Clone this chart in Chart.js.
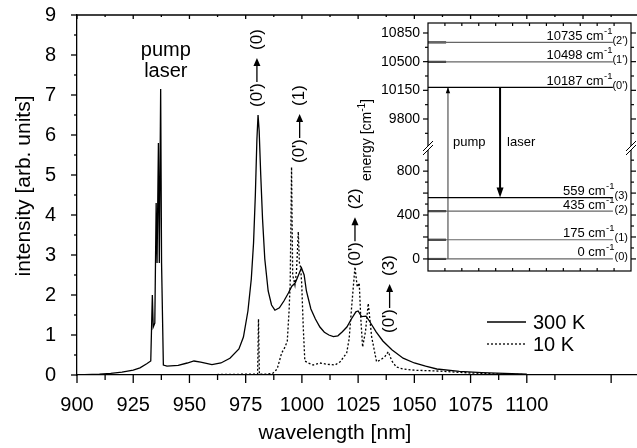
<!DOCTYPE html>
<html>
<head>
<meta charset="utf-8">
<script src="https://cdn.jsdelivr.net/npm/chart.js@4.4.0/dist/chart.umd.min.js"></script>
<style>
  html, body { margin: 0; padding: 0; background: #fff; }
  #wrap { position: relative; width: 637px; height: 448px; overflow: hidden; }
  #main { position: absolute; left: 0; top: 0; }
  #inset { position: absolute; left: 350px; top: 15px; }
</style>
</head>
<body>
<div id="wrap">
  <canvas id="main" width="637" height="448"></canvas>
  <canvas id="inset" width="287" height="275"></canvas>
</div>
<script>
const FONT = "'Liberation Sans', Arial, Helvetica, sans-serif";

// emission spectrum, 300 K (solid)
const wl300 = [900, 910, 915, 920, 925, 928, 931, 932.8, 933.5, 933.9, 934.6, 935.2, 935.6, 936.2, 936.6, 937.2, 937.6, 938.4,
  940, 945, 949, 952, 955, 960, 964, 968, 972, 974, 976, 977.5, 978.5, 979.3, 980, 980.5, 981, 981.7, 982.5, 983.5,
  985, 986.5, 988, 990, 992, 994, 995.5, 997, 998.5, 999.8, 1001, 1002, 1004, 1006, 1008, 1010, 1012, 1014, 1016,
  1018, 1020, 1022, 1024, 1025, 1026.5, 1028.5, 1030, 1033, 1036, 1040, 1045, 1050, 1055, 1060, 1070, 1080, 1090, 1100];
const int300 = [0.0, 0.02, 0.04, 0.07, 0.12, 0.18, 0.28, 0.35, 2.0, 1.2, 1.3, 4.3, 2.8, 5.8, 2.8, 7.15, 2.8, 0.25,
  0.22, 0.24, 0.3, 0.35, 0.32, 0.26, 0.3, 0.42, 0.65, 0.95, 1.6, 2.4, 3.3, 4.5, 5.9, 6.5, 6.1, 5.0, 3.9, 2.9,
  2.1, 1.75, 1.62, 1.68, 1.85, 2.05, 2.22, 2.3, 2.5, 2.68, 2.5, 2.1, 1.65, 1.4, 1.2, 1.07, 1.0, 0.96, 0.98,
  1.08, 1.2, 1.4, 1.58, 1.6, 1.46, 1.47, 1.35, 1.08, 0.85, 0.63, 0.42, 0.3, 0.22, 0.15, 0.09, 0.06, 0.04, 0.02];

// emission spectrum, 10 K (dotted)
const wl10 = [900, 920, 940, 960, 975, 980.3, 980.7, 981.1, 984, 987, 989, 991, 992.5, 993.5, 994.3, 994.8, 995.4, 995.9,
  996.9, 997.6, 998.4, 998.9, 999.4, 999.9, 1000.6, 1001.3, 1002.8, 1005, 1008, 1011, 1014.7, 1017, 1019.9, 1021,
  1022, 1023, 1023.6, 1024.6, 1025.5, 1026.2, 1027, 1028.3, 1029.5, 1031, 1033.2, 1035, 1036.9, 1038.4, 1040, 1042,
  1045, 1050, 1060, 1075, 1090, 1100];
const int10 = [0, 0.01, 0.01, 0.01, 0.02, 0.02, 1.4, 0.02, 0.02, 0.04, 0.15, 0.55, 0.7, 0.85, 1.6, 2.3, 5.2, 2.5,
  2.25, 2.6, 3.58, 2.8, 2.7, 2.3, 1.2, 0.35, 0.3, 0.25, 0.3, 0.27, 0.25, 0.33, 0.55, 0.9,
  1.62, 2.3, 2.7, 2.2, 2.3, 1.4, 0.7, 1.1, 1.79, 0.96, 0.33, 0.38, 0.46, 0.58, 0.35, 0.2,
  0.15, 0.12, 0.1, 0.05, 0.02, 0.01];

const xTickVals = [900, 925, 950, 975, 1000, 1025, 1050, 1075, 1100];
const yTickVals = [0, 1, 2, 3, 4, 5, 6, 7, 8, 9];

// transitions labelled above the peaks
const transTags = ['(0)', '(1)', '(2)', '(3)'];
const transWl = [980, 999, 1023.6, 1039];
const transBase = [6.7, 5.3, 2.72, 1.05];

// inset: energy levels [cm-1]
const levelE = [0, 175, 435, 559, 10187, 10498, 10735];
const levelTag = ['(0)', '(1)', '(2)', '(3)', "(0')", "(1')", "(2')"];
const hiTickVals = [9800, 10150, 10500, 10850];
const loTickVals = [0, 200, 400, 600, 800];
const pumpE = [0, 10187];
const laserE = [10187, 559];

const toXY = (xs, ys) => xs.map((x, i) => ({ x: x, y: ys[i] }));

function seg(ctx, x1, y1, x2, y2) {
  ctx.beginPath();
  ctx.moveTo(x1, y1);
  ctx.lineTo(x2, y2);
  ctx.stroke();
}

// drop the label overflow padding chart.js adds, so the plot box stays where we put it
function noPad(s) {
  s.paddingTop = 0; s.paddingBottom = 0; s.paddingLeft = 0; s.paddingRight = 0;
}

const mainDecor = {
  id: 'mainDecor',
  afterDraw(chart) {
    const { ctx, chartArea: a } = chart;
    const x = chart.scales.x, y = chart.scales.y;
    ctx.save();
    ctx.strokeStyle = '#000';
    ctx.fillStyle = '#000';
    ctx.lineWidth = 1.3;

    // top frame line
    seg(ctx, a.left, a.top, a.right, a.top);

    // x ticks (bottom outward, top inward)
    for (let v = 900; v <= 1140; v += 12.5) {
      const px = x.getPixelForValue(v);
      const major = v % 25 === 0;
      if (v !== 1125) seg(ctx, px, a.bottom, px, a.bottom + (major || v === 1137.5 ? 8 : 5));
      seg(ctx, px, a.top, px, a.top + (major ? 4 : 2));
    }
    // y ticks
    for (let v = 0; v <= 9; v += 0.5) {
      const py = y.getPixelForValue(v);
      seg(ctx, a.left - (v % 1 === 0 ? 6 : 3), py, a.left, py);
    }

    // axis titles
    ctx.font = `21px ${FONT}`;
    ctx.textAlign = 'center';
    ctx.textBaseline = 'alphabetic';
    ctx.fillText('wavelength [nm]', 335, 439);
    ctx.save();
    ctx.translate(30, 186);
    ctx.rotate(-Math.PI / 2);
    ctx.fillText('intensity [arb. units]', 0, 0);
    ctx.restore();

    // pump laser label
    ctx.font = `20px ${FONT}`;
    const lx = x.getPixelForValue(939.5);
    ctx.fillText('pump', lx, y.getPixelForValue(8) + 1);
    ctx.fillText('laser', lx, y.getPixelForValue(7.45));

    // transition labels (rotated)
    transTags.forEach((tag, i) => {
      const cx = x.getPixelForValue(transWl[i]);
      const by = y.getPixelForValue(transBase[i]);
      ctx.save();
      ctx.translate(cx, by);
      ctx.rotate(-Math.PI / 2);
      ctx.font = `17px ${FONT}`;
      ctx.textAlign = 'left';
      ctx.textBaseline = 'middle';
      ctx.fillText("(0')", 0, 0);
      const s = ctx.measureText("(0')").width + 1;
      const e = s + 24;
      ctx.lineWidth = 1.3;
      seg(ctx, s, 0, e - 6, 0);
      ctx.beginPath();
      ctx.moveTo(e - 8, -3.5);
      ctx.lineTo(e, 0);
      ctx.lineTo(e - 8, 3.5);
      ctx.closePath();
      ctx.fill();
      ctx.fillText(tag, e + 8, 0);
      ctx.restore();
    });

    // legend
    const ds = chart.data.datasets;
    ctx.font = `20px ${FONT}`;
    ctx.textAlign = 'left';
    ctx.textBaseline = 'middle';
    [322, 344].forEach((ly, i) => {
      ctx.lineWidth = 1.3;
      ctx.setLineDash(ds[i].borderDash || []);
      seg(ctx, 487, ly, 526, ly);
      ctx.setLineDash([]);
      ctx.fillText(ds[i].label, 533, ly + 1);
    });
    ctx.restore();
  }
};

new Chart(document.getElementById('main'), {
  type: 'line',
  data: {
    datasets: [
      { label: '300 K', data: toXY(wl300, int300), borderColor: '#000', borderWidth: 1.3, pointRadius: 0, tension: 0 },
      { label: '10 K', data: toXY(wl10, int10), borderColor: '#000', borderWidth: 1.3, borderDash: [2, 2], pointRadius: 0, tension: 0 }
    ]
  },
  options: {
    responsive: false,
    animation: false,
    layout: { padding: { top: 15, right: 0, bottom: 0, left: 0 } },
    plugins: { legend: { display: false }, tooltip: { enabled: false } },
    scales: {
      x: {
        type: 'linear', min: 900, max: 1149,
        afterFit: s => { s.height = 73; noPad(s); },
        afterBuildTicks: s => { s.ticks = xTickVals.map(v => ({ value: v })); },
        grid: { display: false, drawTicks: false },
        border: { display: true, color: '#000', width: 1.3 },
        ticks: { color: '#000', font: { family: FONT, size: 20 }, padding: 18, maxRotation: 0, autoSkip: false, callback: v => String(v) }
      },
      y: {
        type: 'linear', min: 0, max: 9,
        afterFit: s => { s.width = 77; noPad(s); },
        afterBuildTicks: s => { s.ticks = yTickVals.map(v => ({ value: v })); },
        grid: { display: false, drawTicks: false },
        border: { display: true, color: '#000', width: 1.3 },
        ticks: { color: '#000', font: { family: FONT, size: 20 }, padding: 21, callback: v => String(v) }
      }
    }
  },
  plugins: [mainDecor]
});

// ---------------- inset ----------------
const LO_MIN = -110, LO_MAX = 1020, HI_MIN = 9458, HI_MAX = 10972;
const PUMP_X = 1.18, LASER_X = 4.26, LINE_END = 10.93, STUB_END = 1.07;

const insetSets = [];
levelE.forEach(e => {
  const axis = e > 5000 ? 'yHi' : 'yLo';
  const strong = e === 559 || e === 10187;
  insetSets.push({ data: [{ x: 0, y: e }, { x: LINE_END, y: e }], yAxisID: axis,
    borderColor: strong ? '#000' : '#666', borderWidth: 1.2, pointRadius: 0 });
  if (!strong) {
    insetSets.push({ data: [{ x: 0, y: e }, { x: STUB_END, y: e }], yAxisID: axis,
      borderColor: '#000', borderWidth: 2, pointRadius: 0 });
  }
});
// pump arrow (two pieces across the axis break)
insetSets.push({ data: [{ x: PUMP_X, y: pumpE[0] }, { x: PUMP_X, y: LO_MAX }], yAxisID: 'yLo', borderColor: '#555', borderWidth: 1.2, pointRadius: 0 });
insetSets.push({ data: [{ x: PUMP_X, y: HI_MIN }, { x: PUMP_X, y: pumpE[1] }], yAxisID: 'yHi', borderColor: '#555', borderWidth: 1.2, pointRadius: 0 });
// laser arrow
insetSets.push({ data: [{ x: LASER_X, y: laserE[1] + 60 }, { x: LASER_X, y: LO_MAX }], yAxisID: 'yLo', borderColor: '#000', borderWidth: 2, pointRadius: 0 });
insetSets.push({ data: [{ x: LASER_X, y: HI_MIN }, { x: LASER_X, y: laserE[0] }], yAxisID: 'yHi', borderColor: '#000', borderWidth: 2, pointRadius: 0 });

const insetDecor = {
  id: 'insetDecor',
  afterDraw(chart) {
    const { ctx, chartArea: a } = chart;
    const x = chart.scales.x, yHi = chart.scales.yHi, yLo = chart.scales.yLo;
    const yOf = e => (e > 5000 ? yHi : yLo).getPixelForValue(e);
    ctx.save();
    ctx.strokeStyle = '#000';
    ctx.fillStyle = '#000';
    ctx.lineWidth = 1.2;
    ctx.strokeRect(a.left, a.top, a.right - a.left, a.bottom - a.top);

    // y ticks on both sides, outward
    const tick = (py, len) => {
      seg(ctx, a.left - len, py, a.left, py);
      seg(ctx, a.right, py, a.right + len, py);
    };
    hiTickVals.forEach(v => tick(yHi.getPixelForValue(v), 5));
    [9625, 9975, 10325, 10675].forEach(v => tick(yHi.getPixelForValue(v), 3));
    loTickVals.forEach(v => tick(yLo.getPixelForValue(v), 5));
    [100, 300, 500, 700, 900].forEach(v => tick(yLo.getPixelForValue(v), 3));
    // x ticks, inward
    for (let v = 1; v < 12; v++) {
      const px = x.getPixelForValue(v);
      seg(ctx, px, a.bottom, px, a.bottom - 3);
      seg(ctx, px, a.top, px, a.top + 3);
    }

    // axis break marks
    const yb = yHi.bottom;
    [a.left, a.right].forEach(bx => {
      ctx.fillStyle = '#fff';
      ctx.beginPath();
      ctx.moveTo(bx - 4, yb + 3);
      ctx.lineTo(bx + 4, yb - 5);
      ctx.lineTo(bx + 4, yb - 1);
      ctx.lineTo(bx - 4, yb + 7);
      ctx.closePath();
      ctx.fill();
      ctx.fillStyle = '#000';
      ctx.lineWidth = 1;
      seg(ctx, bx - 5, yb + 4, bx + 5, yb - 6);
      seg(ctx, bx - 5, yb + 8, bx + 5, yb - 2);
    });

    // arrow heads
    const px = x.getPixelForValue(PUMP_X), pt = yOf(pumpE[1]);
    ctx.beginPath();
    ctx.moveTo(px, pt); ctx.lineTo(px - 2.2, pt + 6); ctx.lineTo(px + 2.2, pt + 6); ctx.closePath();
    ctx.fill();
    const lx = x.getPixelForValue(LASER_X), lt = yOf(laserE[1]);
    ctx.beginPath();
    ctx.moveTo(lx, lt); ctx.lineTo(lx - 3.5, lt - 10); ctx.lineTo(lx + 3.5, lt - 10); ctx.closePath();
    ctx.fill();

    // level labels
    const xr = a.right - 3;
    levelE.forEach((e, i) => {
      const ly = yOf(e);
      const main = `${e} cm`, sup = '-1', tag = levelTag[i];
      ctx.font = `11px ${FONT}`;
      const wTag = ctx.measureText(tag).width;
      ctx.font = `9.5px ${FONT}`;
      const wSup = ctx.measureText(sup).width;
      ctx.textAlign = 'left';
      ctx.textBaseline = 'alphabetic';
      ctx.font = `11px ${FONT}`;
      ctx.fillText(tag, xr - wTag, ly + 1.5);
      ctx.font = `9.5px ${FONT}`;
      ctx.fillText(sup, xr - wTag - wSup, ly - 8.5);
      ctx.font = `13px ${FONT}`;
      ctx.textAlign = 'right';
      ctx.fillText(main, xr - wTag - wSup - 0.5, ly - 2.5);
    });

    // pump / laser words
    ctx.font = `13px ${FONT}`;
    ctx.textAlign = 'left';
    ctx.textBaseline = 'middle';
    ctx.fillText('pump', px + 5, yb - 5);
    ctx.fillText('laser', lx + 7, yb - 5);

    // rotated axis title: energy [cm-1]
    ctx.save();
    ctx.translate(21, 125);
    ctx.rotate(-Math.PI / 2);
    ctx.textBaseline = 'alphabetic';
    const p1 = 'energy [cm', p3 = ']';
    ctx.font = `14px ${FONT}`;
    const w1 = ctx.measureText(p1).width, w3 = ctx.measureText(p3).width;
    ctx.font = `10px ${FONT}`;
    const w2 = ctx.measureText('-1').width;
    let cx = -(w1 + w2 + w3) / 2;
    ctx.font = `14px ${FONT}`;
    ctx.fillText(p1, cx, 0);
    cx += w1;
    ctx.font = `10px ${FONT}`;
    ctx.fillText('-1', cx, -6);
    cx += w2;
    ctx.font = `14px ${FONT}`;
    ctx.fillText(p3, cx, 0);
    ctx.restore();

    ctx.restore();
  }
};

const insetTickFont = { family: FONT, size: 14 };
new Chart(document.getElementById('inset'), {
  type: 'line',
  data: { datasets: insetSets },
  options: {
    responsive: false,
    animation: false,
    layout: { padding: { top: 8, right: 6, bottom: 19, left: 0 } },
    plugins: { legend: { display: false }, tooltip: { enabled: false } },
    elements: { line: { tension: 0 } },
    scales: {
      x: { type: 'linear', min: 0, max: 12, display: false },
      yLo: {
        type: 'linear', position: 'left', stack: 'energy', stackWeight: 1, min: LO_MIN, max: LO_MAX,
        afterFit: s => { s.width = 78; noPad(s); },
        afterBuildTicks: s => { s.ticks = loTickVals.map(v => ({ value: v })); },
        grid: { display: false, drawTicks: false },
        border: { display: false },
        ticks: { color: '#000', font: insetTickFont, padding: 8, callback: v => String(v) }
      },
      yHi: {
        type: 'linear', position: 'left', stack: 'energy', stackWeight: 1, min: HI_MIN, max: HI_MAX,
        afterFit: s => { s.width = 78; noPad(s); },
        afterBuildTicks: s => { s.ticks = hiTickVals.map(v => ({ value: v })); },
        grid: { display: false, drawTicks: false },
        border: { display: false },
        ticks: { color: '#000', font: insetTickFont, padding: 8, callback: v => String(v) }
      }
    }
  },
  plugins: [insetDecor]
});
</script>
</body>
</html>
